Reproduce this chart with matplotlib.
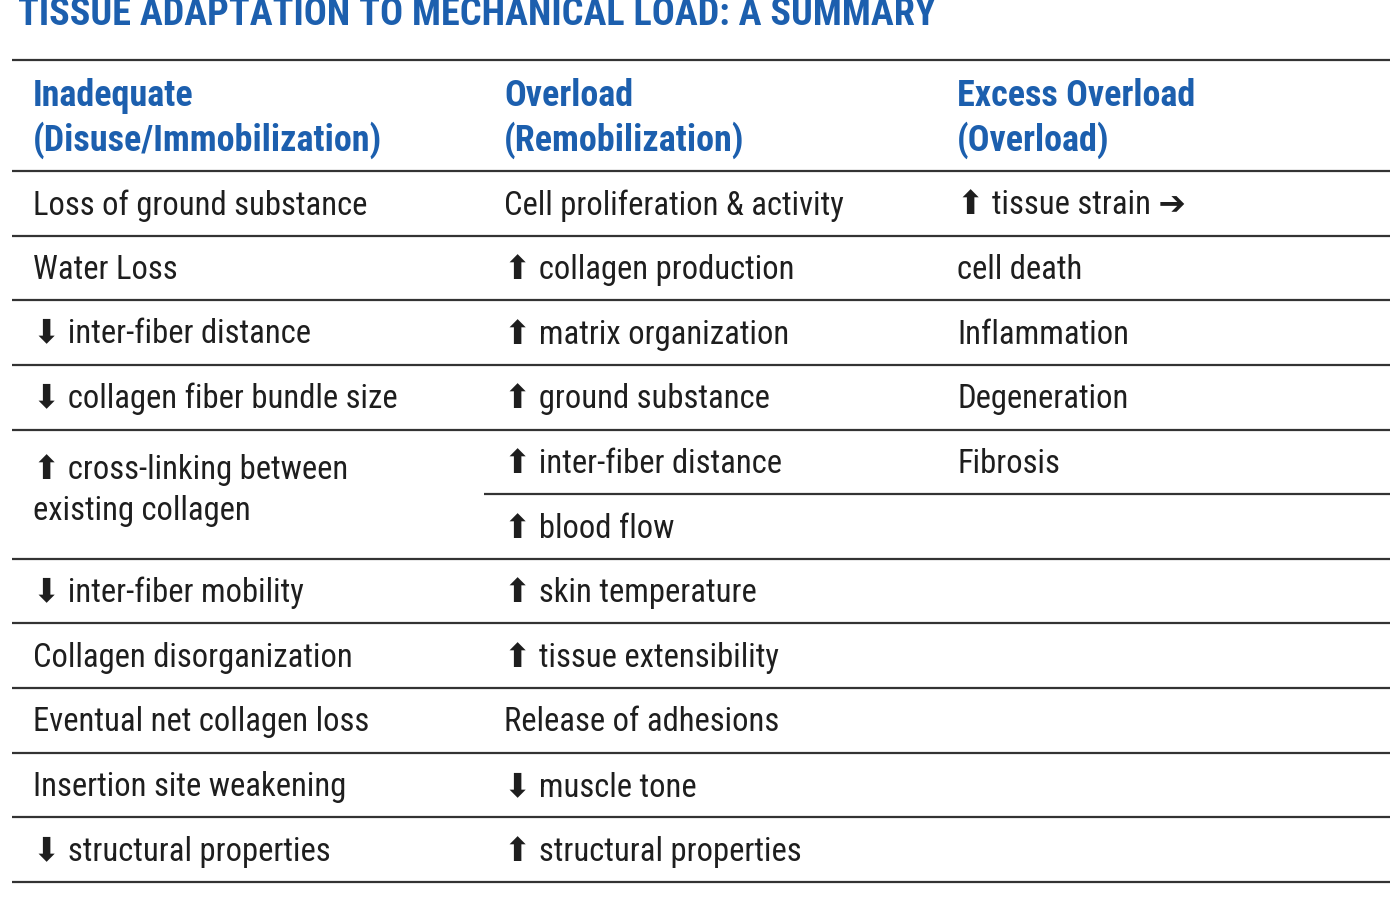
import matplotlib
matplotlib.use("Agg")
import matplotlib.pyplot as plt

title = "TISSUE ADAPTATION TO MECHANICAL LOAD: A SUMMARY"
headers = ["Inadequate\n(Disuse/Immobilization)",
           "Overload\n(Remobilization)",
           "Excess Overload\n(Overload)"]

# column 1: one entry per row, the cross-linking entry spans two sub-rows
col1 = ["Loss of ground substance", "Water Loss", "⬇ inter-fiber distance",
        "⬇ collagen fiber bundle size", "⬆ cross-linking between\nexisting collagen",
        "⬇ inter-fiber mobility", "Collagen disorganization",
        "Eventual net collagen loss", "Insertion site weakening",
        "⬇ structural properties"]
col1_span = [1, 1, 1, 1, 2, 1, 1, 1, 1, 1]
col2 = ["Cell proliferation & activity", "⬆ collagen production",
        "⬆ matrix organization", "⬆ ground substance", "⬆ inter-fiber distance",
        "⬆ blood flow", "⬆ skin temperature", "⬆ tissue extensibility",
        "Release of adhesions", "⬇ muscle tone", "⬆ structural properties"]
col3 = ["⬆ tissue strain ➔", "cell death", "Inflammation", "Degeneration", "Fibrosis"]

blue = "#1c5fae"
ink = "#1e1e1e"
rule = "#333333"
fam = ["Roboto Condensed", "DejaVu Sans"]
fs = 23.5

fig = plt.figure(figsize=(14, 9), dpi=100)
ax = fig.add_axes([0, 0, 1, 1])
ax.set_xlim(0, 1400)
ax.set_ylim(900, 0)
ax.axis("off")

x0, x1 = 12, 1390
colx = [33, 504, 957]
top, head_bot, bottom = 60, 171, 882
nsub = len(col2)
rh = (bottom - head_bot) / nsub

ax.text(18, 25, title, color=blue, fontsize=27.5, fontweight="bold",
        family=fam, va="baseline")

ax.hlines(top, x0, x1, color=rule, lw=1.6)
ax.hlines(head_bot, x0, x1, color=rule, lw=1.6)
for x, h in zip(colx, headers):
    ax.text(x, (top + head_bot) / 2 + 3, h, color=blue, fontsize=26,
            fontweight="bold", family=fam, va="center", linespacing=1.22)

# column 1 and full-width rules
k = 0
for txt, sp in zip(col1, col1_span):
    yc = head_bot + (k + sp / 2) * rh + 2
    if sp > 1:
        yc -= 6
    ax.text(colx[0], yc, txt, fontsize=fs, family=fam, va="center",
            color=ink, linespacing=1.35)
    k += sp
    ax.hlines(head_bot + k * rh, x0, x1, color=rule, lw=1.6)

# partial rule inside the spanning row
k = 0
for sp in col1_span:
    for j in range(1, sp):
        ax.hlines(head_bot + (k + j) * rh, 484, x1, color=rule, lw=1.6)
    k += sp

for i, txt in enumerate(col2):
    ax.text(colx[1], head_bot + (i + 0.5) * rh + 2, txt, fontsize=fs,
            family=fam, va="center", color=ink)
for i, txt in enumerate(col3):
    ax.text(colx[2], head_bot + (i + 0.5) * rh + 2, txt, fontsize=fs,
            family=fam, va="center", color=ink)

fig.savefig("out.png", dpi=100)
